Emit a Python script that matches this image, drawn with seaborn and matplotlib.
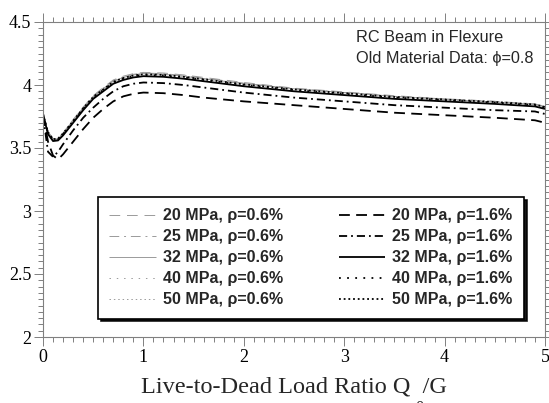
import matplotlib
matplotlib.use("Agg")
import matplotlib.pyplot as plt
from matplotlib.ticker import MultipleLocator
import seaborn as sns
import pandas as pd

# ---- data ----
load_ratio = [0, 0.05, 0.1, 0.15, 0.2, 0.3, 0.4, 0.5, 0.6, 0.7, 0.8, 0.9, 1.0,
              1.2, 1.4, 1.6, 1.8, 2.0, 2.5, 3.0, 3.5, 4.0, 4.5, 4.9, 5.0]

beta_20_06 = [3.77, 3.63, 3.575, 3.58, 3.62, 3.725, 3.825, 3.915, 3.98, 4.04, 4.07, 4.09, 4.10,
              4.095, 4.08, 4.06, 4.04, 4.02, 3.975, 3.945, 3.915, 3.89, 3.87, 3.85, 3.83]
beta_25_06 = [3.77, 3.625, 3.57, 3.575, 3.615, 3.72, 3.82, 3.91, 3.975, 4.035, 4.065, 4.085, 4.095,
              4.09, 4.075, 4.055, 4.035, 4.015, 3.97, 3.94, 3.91, 3.89, 3.87, 3.85, 3.83]
beta_32_06 = [3.77, 3.62, 3.565, 3.57, 3.61, 3.715, 3.815, 3.905, 3.97, 4.03, 4.06, 4.08, 4.09,
              4.085, 4.07, 4.05, 4.03, 4.01, 3.97, 3.94, 3.91, 3.885, 3.865, 3.845, 3.825]
beta_40_06 = [3.77, 3.62, 3.565, 3.57, 3.61, 3.71, 3.81, 3.90, 3.965, 4.025, 4.06, 4.08, 4.09,
              4.085, 4.07, 4.05, 4.03, 4.01, 3.97, 3.94, 3.91, 3.885, 3.865, 3.845, 3.825]
beta_50_06 = [3.77, 3.62, 3.565, 3.57, 3.61, 3.71, 3.81, 3.90, 3.965, 4.025, 4.06, 4.08, 4.09,
              4.085, 4.07, 4.05, 4.03, 4.01, 3.97, 3.94, 3.91, 3.885, 3.865, 3.845, 3.825]

beta_20_16 = [3.76, 3.55, 3.44, 3.41, 3.45, 3.55, 3.65, 3.74, 3.81, 3.87, 3.91, 3.93, 3.94,
              3.935, 3.92, 3.90, 3.885, 3.87, 3.84, 3.81, 3.78, 3.76, 3.74, 3.72, 3.70]
beta_25_16 = [3.76, 3.47, 3.43, 3.47, 3.53, 3.64, 3.74, 3.82, 3.89, 3.95, 3.99, 4.01, 4.02,
              4.015, 4.00, 3.98, 3.96, 3.94, 3.90, 3.87, 3.84, 3.82, 3.80, 3.79, 3.77]
beta_32_16 = [3.77, 3.61, 3.555, 3.56, 3.60, 3.70, 3.80, 3.89, 3.95, 4.01, 4.04, 4.06, 4.07,
              4.065, 4.05, 4.03, 4.01, 3.99, 3.95, 3.92, 3.89, 3.87, 3.85, 3.83, 3.81]
beta_40_16 = [3.77, 3.62, 3.565, 3.57, 3.61, 3.71, 3.81, 3.90, 3.96, 4.02, 4.05, 4.07, 4.08,
              4.075, 4.06, 4.04, 4.02, 4.00, 3.96, 3.93, 3.90, 3.88, 3.86, 3.84, 3.82]
beta_50_16 = [3.77, 3.625, 3.57, 3.575, 3.615, 3.715, 3.815, 3.905, 3.965, 4.025, 4.055, 4.075, 4.085,
              4.08, 4.065, 4.045, 4.025, 4.005, 3.965, 3.935, 3.905, 3.885, 3.865, 3.845, 3.825]

labels_06 = ["20 MPa, ρ=0.6%", "25 MPa, ρ=0.6%", "32 MPa, ρ=0.6%", "40 MPa, ρ=0.6%", "50 MPa, ρ=0.6%"]
labels_16 = ["20 MPa, ρ=1.6%", "25 MPa, ρ=1.6%", "32 MPa, ρ=1.6%", "40 MPa, ρ=1.6%", "50 MPa, ρ=1.6%"]
series_06 = [beta_20_06, beta_25_06, beta_32_06, beta_40_06, beta_50_06]
series_16 = [beta_20_16, beta_25_16, beta_32_16, beta_40_16, beta_50_16]

x_ticks = [0, 1, 2, 3, 4, 5]
y_ticks = [2, 2.5, 3, 3.5, 4, 4.5]
x_label = "Live-to-Dead Load Ratio Q  /G"
x_label_sub = "0"
note_1 = "RC Beam in Flexure"
note_2 = "Old Material Data: ϕ=0.8"

# ---- styling ----
sns.set_style("ticks")
plt.rcParams["font.family"] = ["Liberation Serif", "DejaVu Serif"]
plt.rcParams["lines.solid_capstyle"] = "butt"

W, H, DPI = 549, 403, 100
fig = plt.figure(figsize=(W / DPI, H / DPI), dpi=DPI)
L, R, T, B = 43, 545, 22, 337
ax = fig.add_axes([L / W, 1 - B / H, (R - L) / W, (B - T) / H])

gray_styles = [(0, (11, 7)), (0, (10, 5, 2, 5)), "-", (0, (1.5, 6)), (0, (1.5, 3))]
black_styles = [(0, (6, 3.5)), (0, (4.5, 2.2, 1, 2.2)), "-", (0, (1, 3.5)), (0, (1, 1.6))]

for lab, ys, ls in zip(labels_06, series_06, gray_styles):
    df = pd.DataFrame({"x": load_ratio, "y": ys})
    sns.lineplot(data=df, x="x", y="y", ax=ax, color="#9a9a9a", lw=0.7,
                 linestyle=ls, label=lab, legend=False)
for lab, ys, ls in zip(labels_16, series_16, black_styles):
    df = pd.DataFrame({"x": load_ratio, "y": ys})
    sns.lineplot(data=df, x="x", y="y", ax=ax, color="black", lw=1.3,
                 linestyle=ls, label=lab, legend=False)

ax.set_xlim(0, 5)
ax.set_ylim(2, 4.5)
ax.set_xticks(x_ticks)
ax.set_yticks(y_ticks)
ax.set_xticklabels([str(v) for v in x_ticks])
ax.set_yticklabels([f"{v:g}" for v in y_ticks])
ax.xaxis.set_minor_locator(MultipleLocator(0.1))
ax.yaxis.set_minor_locator(MultipleLocator(0.05))
ax.tick_params(which="both", direction="out", top=True, right=True, colors="#808080",
               labelcolor="black", labelsize=13, width=0.7)
ax.tick_params(which="major", length=6.5, pad=2)
ax.tick_params(which="minor", length=3.5)
for s in ax.spines.values():
    s.set_visible(True)
    s.set_color("#808080")
    s.set_linewidth(0.8)
ax.set_xlabel("")
ax.set_ylabel("")

fig.text(293.5 / W, 1 - 392 / H, x_label, ha="center", va="baseline", fontsize=17.5,
         family=["Liberation Serif", "DejaVu Serif"])
fig.text(419 / W, 1 - 400 / H, x_label_sub, ha="center", va="top", fontsize=12,
         family=["Liberation Serif", "DejaVu Serif"])

fig.text(356 / W, 1 - 38 / H, note_1, ha="left", va="center", fontsize=11.7,
         family=["Liberation Sans", "DejaVu Sans"])
fig.text(356 / W, 1 - 58 / H, note_2, ha="left", va="center", fontsize=11.7,
         family=["Liberation Sans", "DejaVu Sans"])

hs = ax.get_lines()
leg = ax.legend(handles=hs[:10], labels=labels_06 + labels_16, ncol=2,
                loc="upper left", bbox_to_anchor=((98 - L) / (R - L), 1 - (197 - T) / (B - T)),
                bbox_transform=ax.transAxes, borderaxespad=0,
                prop={"family": ["Liberation Sans", "DejaVu Sans"], "weight": "bold", "size": 11.5},
                handlelength=2.9, handletextpad=0.45, columnspacing=3.5, labelspacing=0.376,
                frameon=True, fancybox=False, framealpha=1, edgecolor="black",
                shadow={"color": "black", "alpha": 0.9}, borderpad=0.71)
leg.get_frame().set_linewidth(1.2)

fig.savefig("out.png", dpi=DPI)
